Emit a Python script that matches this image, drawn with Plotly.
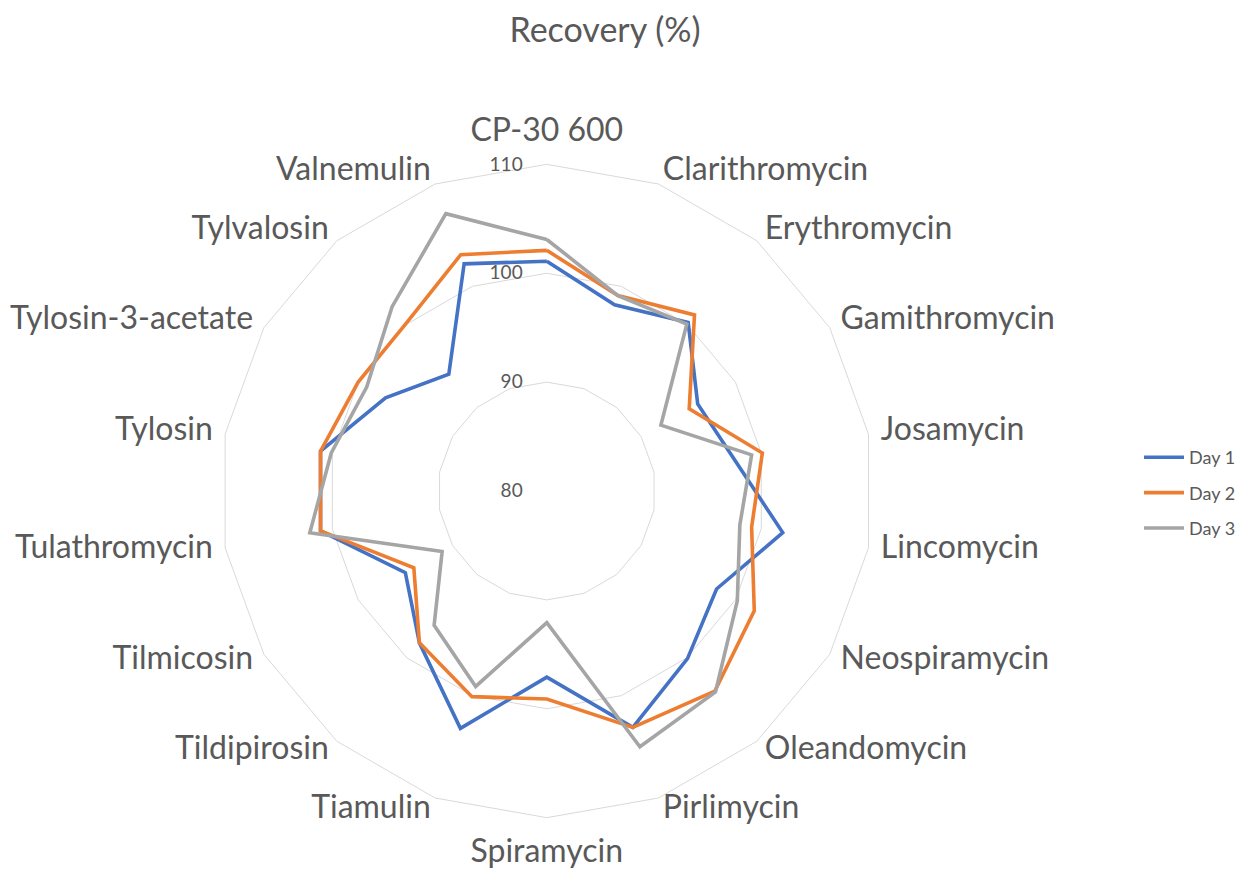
import plotly.graph_objects as go

categories = ["CP-30 600", "Clarithromycin", "Erythromycin", "Gamithromycin", "Josamycin",
              "Lincomycin", "Neospiramycin", "Oleandomycin", "Pirlimycin", "Spiramycin",
              "Tiamulin", "Tildipirosin", "Tilmicosin", "Tulathromycin", "Tylosin",
              "Tylosin-3-acetate", "Tylvalosin", "Valnemulin"]

day1 = [101.1, 98.2, 100.2, 96.0, 97.4, 102.0, 98.0, 100.1, 103.1, 97.1,
        103.2, 98.2, 95.0, 101.1, 101.1, 97.1, 94.0, 102.2]
day2 = [102.1, 99.1, 101.1, 95.1, 100.1, 99.1, 102.0, 104.0, 103.1, 99.1,
        100.1, 98.2, 94.1, 101.1, 101.1, 100.0, 100.1, 103.1]
day3 = [103.1, 99.1, 100.0, 92.1, 99.1, 98.0, 100.2, 104.1, 105.0, 92.1,
        99.1, 96.1, 91.1, 102.1, 100.1, 99.1, 102.1, 107.1]

series = [("Day 1", day1, "#4472C4"), ("Day 2", day2, "#ED7D31"), ("Day 3", day3, "#A5A5A5")]
radial_ticks = [80, 90, 100, 110]

FONT = "Lato"
GREY = "#595959"
RMIN, RMAX_GRID, RMAX = 80, 110, 113   # outer ring drawn as the 110 gridline; room for labels

fig = go.Figure()
for i, (name, vals, col) in enumerate(series):
    fig.add_trace(go.Scatterpolar(
        r=vals + [vals[0]], theta=categories + [categories[0]],
        mode="lines", name=name, legendgroup=name,
        line=dict(color=col, width=3.6),
    ))

# Category labels placed just outside the outer ring (Excel style)
n = len(categories)
label_pos, label_r = [], []
for i in range(n):
    ang = 360.0 * i / n
    if ang == 0:
        label_pos.append("top center"); label_r.append(111.4)
    elif abs(ang - 180) < 1e-9:
        label_pos.append("bottom center"); label_r.append(111.9)
    elif ang < 180:
        label_pos.append("middle right"); label_r.append(111.15)
    else:
        label_pos.append("middle left"); label_r.append(111.15)
fig.add_trace(go.Scatterpolar(
    r=label_r, theta=categories, mode="text", text=categories,
    textposition=label_pos, cliponaxis=False, showlegend=False, hoverinfo="skip",
    textfont=dict(size=32, color=GREY, family=FONT),
))

# page has an 8px body margin; work in figure coordinates (screen - 8)
OFF = 8
W, H = 1249 - 2 * OFF, 877 - 2 * OFF
PX_PER_UNIT = 328 / (RMAX_GRID - RMIN)
cx, cy, R = 549 - OFF, 491 - OFF, PX_PER_UNIT * (RMAX - RMIN)
fig.update_layout(
    width=W, height=H,
    margin=dict(l=0, r=0, t=0, b=0),
    paper_bgcolor="white", plot_bgcolor="white",
    font=dict(family=FONT, color=GREY),
    title=dict(text="Recovery (%)", x=(605 - OFF) / W, xanchor="center",
               y=1 - (30 - OFF) / H, yanchor="middle",
               font=dict(size=34, color=GREY, family=FONT)),
    polar=dict(
        domain=dict(x=[(cx - R) / W, (cx + R) / W], y=[(H - cy - R) / H, (H - cy + R) / H]),
        bgcolor="rgba(0,0,0,0)",
        gridshape="linear",
        angularaxis=dict(
            rotation=90, direction="clockwise",
            showgrid=False, showline=False,
            ticks="", showticklabels=False,
        ),
        radialaxis=dict(
            range=[RMIN, RMAX], tickvals=radial_ticks, angle=90, tickangle=90,
            side="counterclockwise",
            showline=False, showgrid=True, gridcolor="#D9D9D9", gridwidth=1.3,
            ticks="outside", ticklen=17, tickcolor="rgba(0,0,0,0)",
            tickfont=dict(size=19, color=GREY, family=FONT),
        ),
    ),
    legend=dict(x=(1144 - OFF) / W, y=1 - (493 - OFF) / H, xanchor="left", yanchor="middle",
                font=dict(size=18, color=GREY, family=FONT),
                tracegroupgap=9, itemwidth=40, bgcolor="rgba(0,0,0,0)"),
)

fig.write_html("out.html")
